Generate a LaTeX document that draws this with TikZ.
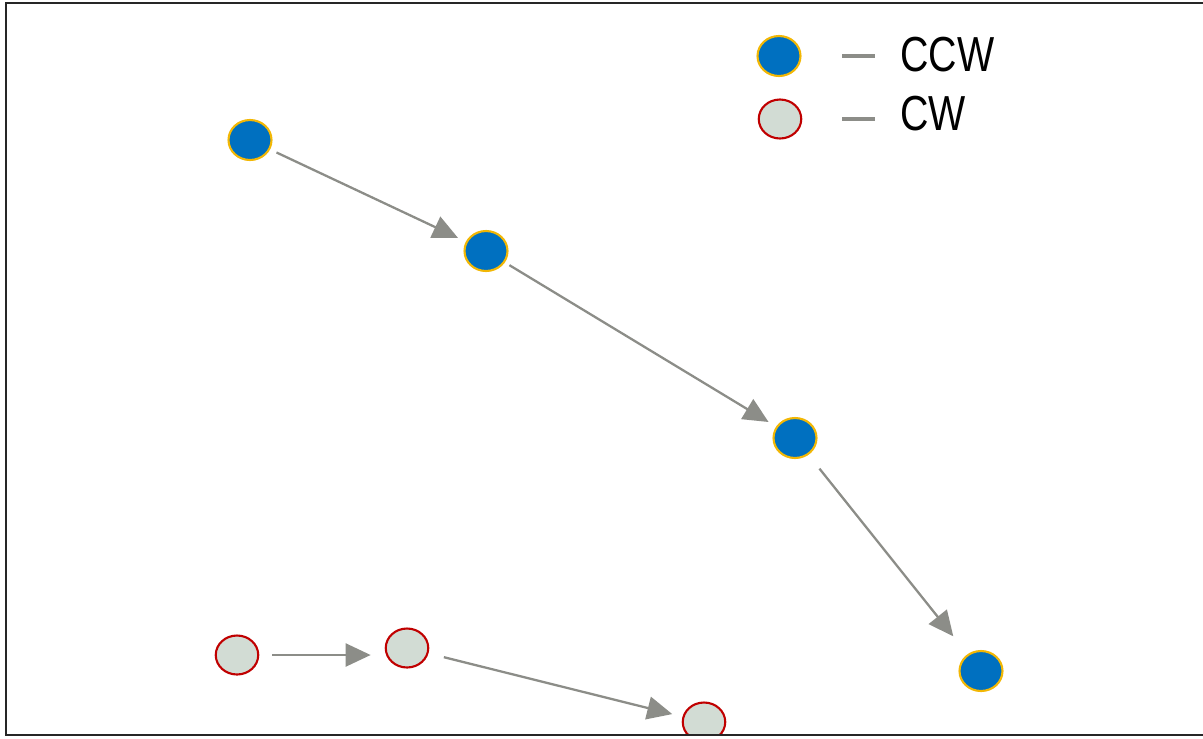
\documentclass[tikz,border=0pt]{standalone}
\usepackage{fontspec}
\setmainfont{Liberation Sans}
\usepackage{graphicx}
\usetikzlibrary{shapes.geometric,arrows.meta}

\definecolor{ccwfill}{HTML}{0070C0}
\definecolor{ccwline}{HTML}{F2B705}
\definecolor{cwfill}{HTML}{D2DCD4}
\definecolor{cwline}{HTML}{C00000}
\definecolor{steparrow}{HTML}{8C8D88}

\begin{document}
\begin{tikzpicture}[x=0.02cm,y=-0.02cm,
  ccw/.style={ellipse, draw=ccwline, fill=ccwfill, line width=1.2pt,
    inner sep=0pt, minimum width=0.86cm, minimum height=0.8cm},
  cw/.style={ellipse, draw=cwline, fill=cwfill, line width=1.2pt,
    inner sep=0pt, minimum width=0.85cm, minimum height=0.78cm},
  move/.style={draw=steparrow, line width=1.3pt,
    -{Triangle[length=0.5cm,width=0.46cm]}},
  legtext/.style={anchor=west, inner sep=0pt, font=\fontsize{28}{30}\selectfont}]

% Fix the page size
\useasboundingbox (0,0) rectangle (1203,738);

\begin{scope}
\clip (0,0) rectangle (1203,735);

% Counter-clockwise steps
\node[ccw] (a1) at (250,140) {};
\node[ccw] (a2) at (486,251) {};
\node[ccw] (a3) at (795,438) {};
\node[ccw] (a4) at (981,671) {};

% Clockwise steps
\node[cw] (b1) at (237,655) {};
\node[cw] (b2) at (407,648) {};
\node[cw] (b3) at (704,722) {};
\end{scope}

% Arrows between steps
\draw[move, shorten <=4pt, shorten >=5pt] (a1) -- (a2);
\draw[move, shorten <=3pt, shorten >=5pt] (a2) -- (a3);
\draw[move, shorten <=10pt, shorten >=13pt] (a3) -- (a4);
\draw[move, shorten <=7.5pt, shorten >=8pt] (b1.east) -- (b1.east -| b2.west);
\draw[move, shorten <=9pt, shorten >=6pt] (b2) -- (b3);

% Legend
\node[ccw] (lccw) at (779,56) {};
\node[cw] (lcw) at (780,119) {};
\coordinate (d1) at (842,56);
\coordinate (d2) at (875,56);
\coordinate (d3) at (842,119);
\coordinate (d4) at (875,119);
\draw[steparrow, line width=1.8pt] (d1) -- (d2);
\draw[steparrow, line width=1.8pt] (d3) -- (d4);
\node[legtext] (tccw) at (900,55) {\scalebox{0.8}[1]{CCW}};
\node[legtext] (tcw) at (900,114) {\scalebox{0.8}[1]{CW}};

% Frame
\draw[black!85, line width=1.4pt] (1205,3) -- (6,3) -- (6,735) -- (1205,735);

\end{tikzpicture}
\end{document}
